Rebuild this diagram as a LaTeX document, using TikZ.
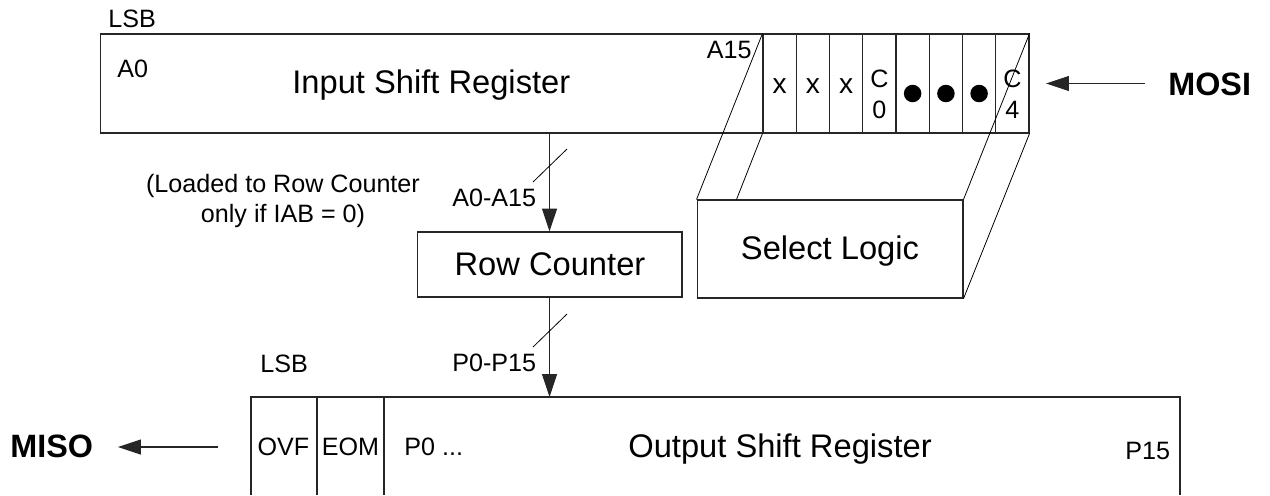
\documentclass[tikz,border=0pt]{standalone}
\usepackage{fontspec}
\setmainfont{Liberation Sans}
\usetikzlibrary{arrows.meta,calc}
\begin{document}
\begin{tikzpicture}[x=0.02cm,y=-0.02cm,
  box/.style={draw=black!85, line width=0.6pt, inner sep=0pt},
  cell/.style={draw=black!85, line width=0.6pt, inner sep=0pt, minimum width=0.665cm, minimum height=1.98cm},
  lbl/.style={inner sep=0pt, font=\fontsize{14.3}{17}\selectfont},
  xlbl/.style={inner sep=0pt, font=\fontsize{16}{19}\selectfont},
  big/.style={inner sep=0pt, font=\fontsize{18.6}{22}\selectfont},
  sig/.style={inner sep=0pt, font=\fontsize{18.4}{22}\selectfont\bfseries},
  wire/.style={line width=0.6pt, draw=black!85},
  arr/.style={wire, -{Triangle[length=13pt,width=8.5pt]}},
  slim/.style={line width=0.45pt, draw=black},
  dot/.style={circle, fill=black, inner sep=0pt, minimum size=0.35cm}
]
\path[use as bounding box, fill=white] (0,0) rectangle (1270,495);

% Input shift register
\node[box, minimum width=18.58cm, minimum height=1.98cm] (isr) at (564.5,83.5) {};
\foreach \i in {1,...,8}
  \node[cell] (c\i) at ({763+33.25*(\i-0.5)},83.5) {};
\node[lbl, anchor=base west] (lsbA) at (108,27) {LSB};
\node[lbl, anchor=base west] (a0) at (117,77) {A0};
\node[big, anchor=base west] (isrt) at (292,93) {Input Shift Register};
\node[lbl, anchor=base east] (a15) at (752,58) {A15};
\foreach \i in {1,2,3}
  \node[xlbl, anchor=base] (x\i) at ({763+33.25*(\i-0.5)},93) {x};
\node[lbl, anchor=base] (c0a) at (879.4,87) {C};
\node[lbl, anchor=base] (c0b) at (879.4,118) {0};
\node[dot] (d1) at (912.6,93.5) {};
\node[dot] (d2) at (945.9,93.5) {};
\node[dot] (d3) at (979.1,93.5) {};
\node[lbl, anchor=base] (c4a) at (1012.4,87) {C};
\node[lbl, anchor=base] (c4b) at (1012.4,118) {4};

% MOSI
\node[sig, anchor=base west] (mosi) at (1168,95) {MOSI};
\coordinate (mosiS) at (1145,83.5);
\coordinate (mosiT) at (1046,83.5);
\draw[arr] (mosiS) -- (mosiT);

% Select logic
\node[box, minimum width=5.32cm, minimum height=1.96cm] (sl) at (830,249) {};
\node[big, anchor=base] (slt) at (830,259) {Select Logic};
\draw[slim] (c1.north west) -- (sl.north west);
\draw[slim] (c1.south west) -- ($(sl.north west)+(40,0)$);
\draw[slim] (c8.north east) -- (sl.north east);
\draw[slim] (c8.south east) -- (sl.south east);

% Row counter
\node[box, minimum width=5.3cm, minimum height=1.3cm] (rc) at (549.5,264.5) {};
\node[big, anchor=base] (rct) at (550,275) {Row Counter};
\draw[arr] (rc.north |- isr.south) -- (rc.north);
\draw[slim] (533,182) -- (567,149);
\node[lbl, anchor=base west] (abus) at (452,206) {A0-A15};
\node[lbl, anchor=base] (load1) at (283,192) {(Loaded to Row Counter};
\node[lbl, anchor=base] (load2) at (283,222) {only if IAB = 0)};

% Output shift register
\coordinate (osrNW) at (251,397);
\coordinate (osrNE) at (1180,397);
\coordinate (osrSW) at (251,495);
\coordinate (osrSE) at (1180,495);
\draw[wire] (osrSW) -- (osrNW) -- (osrNE) -- (osrSE);
\draw[wire] (317,397) -- (317,495);
\draw[wire] (384,397) -- (384,495);
\draw[arr] (rc.south) -- (rc.south |- osrNW);
\draw[slim] (533,347) -- (567,314);
\node[lbl, anchor=base west] (pbus) at (452,371) {P0-P15};
\node[lbl, anchor=base west] (lsbB) at (260,372) {LSB};
\node[lbl, anchor=base] (ovf) at (283.5,455) {OVF};
\node[lbl, anchor=base] (eom) at (350.5,455) {EOM};
\node[lbl, anchor=base west] (p0) at (404,455) {P0 ...};
\node[big, anchor=base west] (osrt) at (628,457) {Output Shift Register};
\node[lbl, anchor=base west] (p15) at (1125,459) {P15};

% MISO
\node[sig, anchor=base west] (miso) at (10,457) {MISO};
\coordinate (misoS) at (218,447);
\coordinate (misoT) at (118,447);
\draw[arr] (misoS) -- (misoT);
\end{tikzpicture}
\end{document}
